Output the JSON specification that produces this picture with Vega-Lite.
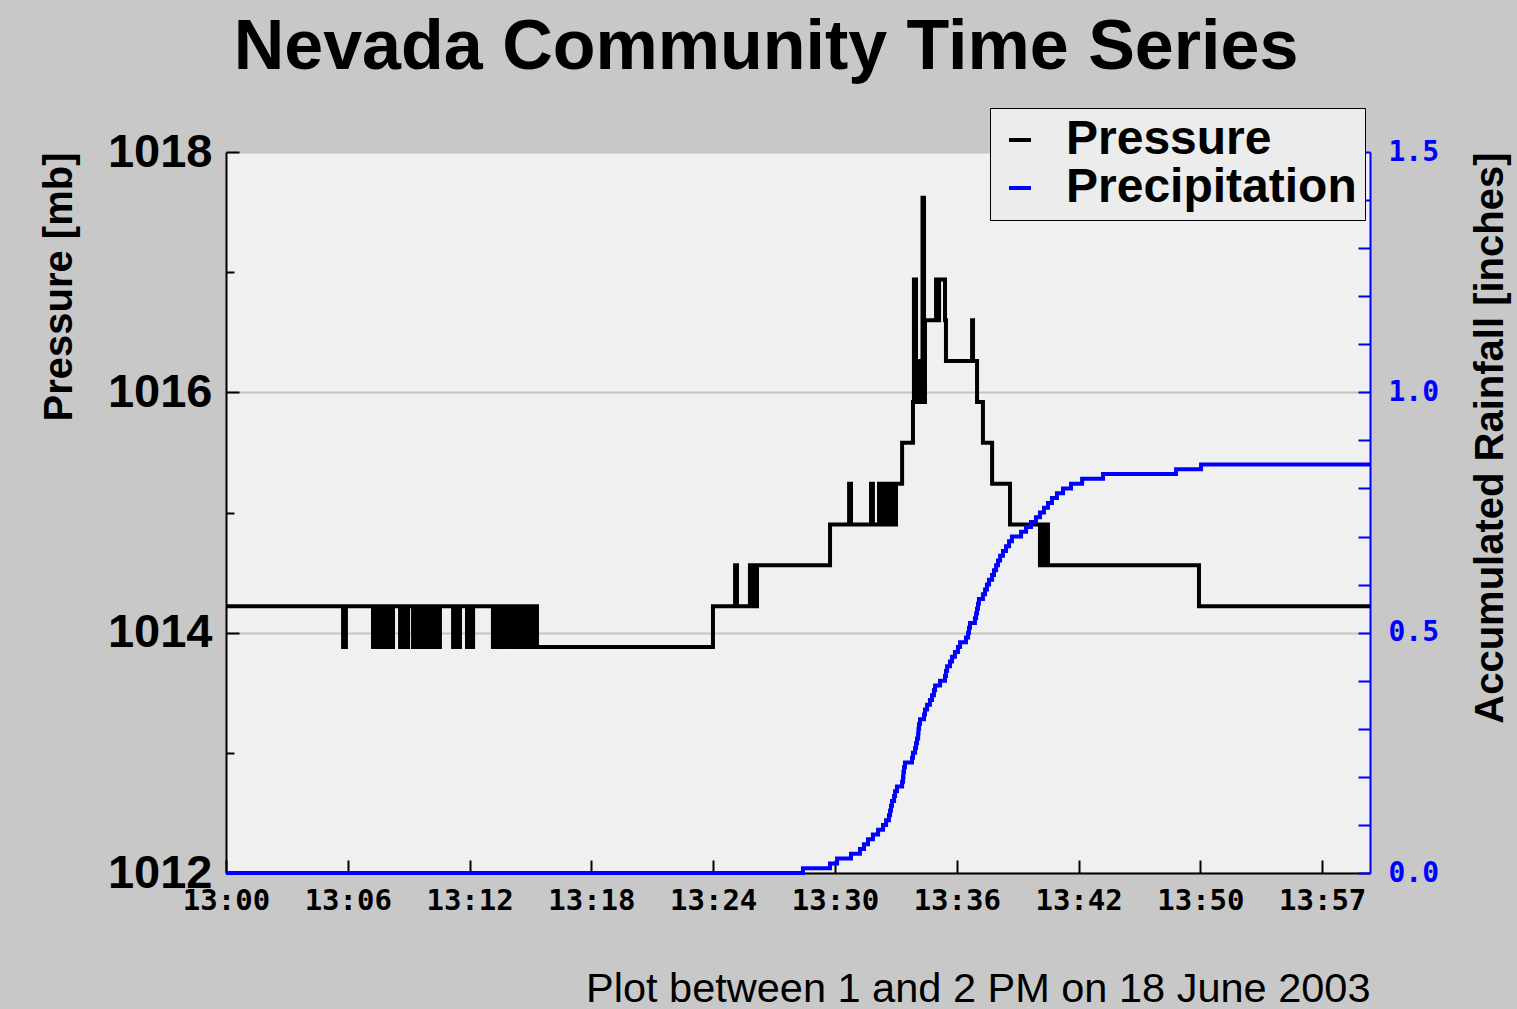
{
  "$schema": "https://vega.github.io/schema/vega-lite/v6.json",
  "autosize": "none",
  "width": 1144,
  "height": 721,
  "padding": {"left": 226, "top": 152, "right": 147, "bottom": 136},
  "background": "#c8c8c8",
  "title": {
    "text": "Nevada Community Time Series",
    "font": "Liberation Sans",
    "fontSize": 70,
    "fontWeight": "bold",
    "color": "black",
    "anchor": "middle",
    "frame": "group",
    "dx": -32,
    "baseline": "alphabetic",
    "offset": -31
  },
  "datasets": {
    "pressure": [
      {"t": 0, "p": 1014.22}, {"t": 6.14, "p": 1013.88}, {"t": 6.29, "p": 1014.22},
      {"t": 7.71, "p": 1013.88}, {"t": 7.82, "p": 1014.22}, {"t": 7.92, "p": 1013.88}, {"t": 8.03, "p": 1014.22}, {"t": 8.10, "p": 1013.88}, {"t": 8.18, "p": 1014.22},
      {"t": 8.34, "p": 1013.88}, {"t": 8.45, "p": 1014.22}, {"t": 8.55, "p": 1013.88}, {"t": 8.66, "p": 1014.22}, {"t": 8.72, "p": 1013.88}, {"t": 8.76, "p": 1014.22},
      {"t": 9.13, "p": 1013.88}, {"t": 9.24, "p": 1014.22}, {"t": 9.34, "p": 1013.88}, {"t": 9.45, "p": 1014.22}, {"t": 9.50, "p": 1013.88}, {"t": 9.55, "p": 1014.22},
      {"t": 9.81, "p": 1013.88}, {"t": 9.92, "p": 1014.22}, {"t": 10.02, "p": 1013.88}, {"t": 10.12, "p": 1014.22}, {"t": 10.15, "p": 1013.88}, {"t": 10.18, "p": 1014.22},
      {"t": 10.28, "p": 1013.88}, {"t": 10.39, "p": 1014.22}, {"t": 10.49, "p": 1013.88}, {"t": 10.60, "p": 1014.22}, {"t": 10.70, "p": 1013.88}, {"t": 10.81, "p": 1014.22}, {"t": 10.84, "p": 1013.88}, {"t": 10.86, "p": 1014.22},
      {"t": 11.07, "p": 1013.88}, {"t": 11.15, "p": 1014.22}, {"t": 11.18, "p": 1013.88}, {"t": 11.22, "p": 1014.22},
      {"t": 11.91, "p": 1013.88}, {"t": 12.01, "p": 1014.22}, {"t": 12.12, "p": 1013.88}, {"t": 12.22, "p": 1014.22}, {"t": 12.25, "p": 1013.88}, {"t": 12.27, "p": 1014.22},
      {"t": 12.64, "p": 1013.88}, {"t": 12.75, "p": 1014.22}, {"t": 12.85, "p": 1013.88}, {"t": 12.96, "p": 1014.22},
      {"t": 14.00, "p": 1013.88}, {"t": 14.11, "p": 1014.22}, {"t": 14.21, "p": 1013.88}, {"t": 14.32, "p": 1014.22}, {"t": 14.42, "p": 1013.88}, {"t": 14.53, "p": 1014.22},
      {"t": 14.74, "p": 1013.88}, {"t": 14.84, "p": 1014.22}, {"t": 14.95, "p": 1013.88}, {"t": 15.05, "p": 1014.22}, {"t": 15.16, "p": 1013.88}, {"t": 15.26, "p": 1014.22}, {"t": 15.37, "p": 1013.88}, {"t": 15.42, "p": 1014.22},
      {"t": 15.53, "p": 1013.88}, {"t": 15.63, "p": 1014.22}, {"t": 15.74, "p": 1013.88}, {"t": 15.84, "p": 1014.22}, {"t": 15.95, "p": 1013.88}, {"t": 16.05, "p": 1014.22}, {"t": 16.16, "p": 1013.88}, {"t": 16.26, "p": 1014.22}, {"t": 16.31, "p": 1013.88},
      {"t": 25.54, "p": 1014.22},
      {"t": 26.70, "p": 1014.56}, {"t": 26.80, "p": 1014.22},
      {"t": 27.48, "p": 1014.56}, {"t": 27.54, "p": 1014.22}, {"t": 27.61, "p": 1014.56}, {"t": 27.67, "p": 1014.22}, {"t": 27.74, "p": 1014.56}, {"t": 27.80, "p": 1014.22}, {"t": 27.85, "p": 1014.56},
      {"t": 31.68, "p": 1014.90},
      {"t": 32.68, "p": 1015.24}, {"t": 32.78, "p": 1014.90},
      {"t": 33.83, "p": 1015.24}, {"t": 33.93, "p": 1014.90},
      {"t": 34.25, "p": 1015.24}, {"t": 34.35, "p": 1014.90}, {"t": 34.46, "p": 1015.24}, {"t": 34.51, "p": 1014.90},
      {"t": 34.67, "p": 1015.24}, {"t": 34.72, "p": 1014.90}, {"t": 34.83, "p": 1015.24}, {"t": 34.88, "p": 1014.90}, {"t": 34.98, "p": 1015.24}, {"t": 35.03, "p": 1014.90}, {"t": 35.14, "p": 1015.24},
      {"t": 35.46, "p": 1015.58},
      {"t": 36.03, "p": 1015.92},
      {"t": 36.08, "p": 1016.94}, {"t": 36.19, "p": 1015.92}, {"t": 36.30, "p": 1016.26}, {"t": 36.40, "p": 1015.92}, {"t": 36.53, "p": 1017.62}, {"t": 36.61, "p": 1015.92}, {"t": 36.66, "p": 1016.60},
      {"t": 37.24, "p": 1016.94}, {"t": 37.35, "p": 1016.60}, {"t": 37.40, "p": 1016.94}, {"t": 37.71, "p": 1016.60}, {"t": 37.76, "p": 1016.26},
      {"t": 39.13, "p": 1016.60}, {"t": 39.18, "p": 1016.26}, {"t": 39.39, "p": 1015.92}, {"t": 39.70, "p": 1015.58}, {"t": 40.18, "p": 1015.24}, {"t": 41.12, "p": 1014.90},
      {"t": 42.69, "p": 1014.56}, {"t": 42.77, "p": 1014.90}, {"t": 42.85, "p": 1014.56}, {"t": 42.93, "p": 1014.90}, {"t": 43.01, "p": 1014.56}, {"t": 43.06, "p": 1014.90}, {"t": 43.11, "p": 1014.56},
      {"t": 51.03, "p": 1014.22}, {"t": 60, "p": 1014.22}
    ],
    "precip": [
      {"t": 0, "r": 0}, {"t": 30.26, "r": 0.01}, {"t": 31.68, "r": 0.02}, {"t": 32.05, "r": 0.03}, {"t": 32.78, "r": 0.04},
      {"t": 33.25, "r": 0.05}, {"t": 33.46, "r": 0.06}, {"t": 33.67, "r": 0.07}, {"t": 33.93, "r": 0.08}, {"t": 34.20, "r": 0.09},
      {"t": 34.46, "r": 0.10}, {"t": 34.62, "r": 0.11}, {"t": 34.77, "r": 0.12}, {"t": 34.83, "r": 0.13}, {"t": 34.88, "r": 0.14},
      {"t": 34.93, "r": 0.15}, {"t": 35.04, "r": 0.16}, {"t": 35.09, "r": 0.17}, {"t": 35.19, "r": 0.18}, {"t": 35.46, "r": 0.19},
      {"t": 35.51, "r": 0.20}, {"t": 35.53, "r": 0.21}, {"t": 35.56, "r": 0.22}, {"t": 35.61, "r": 0.23}, {"t": 35.98, "r": 0.24},
      {"t": 36.03, "r": 0.25}, {"t": 36.14, "r": 0.26}, {"t": 36.19, "r": 0.27}, {"t": 36.24, "r": 0.28}, {"t": 36.30, "r": 0.29},
      {"t": 36.32, "r": 0.30}, {"t": 36.35, "r": 0.31}, {"t": 36.40, "r": 0.32}, {"t": 36.61, "r": 0.33}, {"t": 36.66, "r": 0.34},
      {"t": 36.77, "r": 0.35}, {"t": 36.92, "r": 0.36}, {"t": 37.03, "r": 0.37}, {"t": 37.13, "r": 0.38}, {"t": 37.19, "r": 0.39},
      {"t": 37.45, "r": 0.40}, {"t": 37.71, "r": 0.41}, {"t": 37.76, "r": 0.42}, {"t": 37.82, "r": 0.43}, {"t": 37.97, "r": 0.44},
      {"t": 38.08, "r": 0.45}, {"t": 38.23, "r": 0.46}, {"t": 38.39, "r": 0.47}, {"t": 38.50, "r": 0.48}, {"t": 38.81, "r": 0.49},
      {"t": 38.92, "r": 0.50}, {"t": 38.97, "r": 0.51}, {"t": 39.02, "r": 0.52}, {"t": 39.28, "r": 0.53}, {"t": 39.34, "r": 0.54},
      {"t": 39.39, "r": 0.55}, {"t": 39.44, "r": 0.56}, {"t": 39.49, "r": 0.57}, {"t": 39.70, "r": 0.58}, {"t": 39.81, "r": 0.59},
      {"t": 39.91, "r": 0.60}, {"t": 40.02, "r": 0.61}, {"t": 40.18, "r": 0.62}, {"t": 40.28, "r": 0.63}, {"t": 40.39, "r": 0.64},
      {"t": 40.49, "r": 0.65}, {"t": 40.60, "r": 0.66}, {"t": 40.75, "r": 0.67}, {"t": 40.91, "r": 0.68}, {"t": 41.07, "r": 0.69},
      {"t": 41.22, "r": 0.70}, {"t": 41.70, "r": 0.71}, {"t": 41.96, "r": 0.72}, {"t": 42.22, "r": 0.73}, {"t": 42.48, "r": 0.74},
      {"t": 42.69, "r": 0.75}, {"t": 42.90, "r": 0.76}, {"t": 43.11, "r": 0.77}, {"t": 43.32, "r": 0.78}, {"t": 43.58, "r": 0.79},
      {"t": 43.90, "r": 0.80}, {"t": 44.32, "r": 0.81}, {"t": 44.90, "r": 0.82}, {"t": 46.00, "r": 0.83}, {"t": 49.83, "r": 0.84},
      {"t": 51.14, "r": 0.85}, {"t": 60, "r": 0.85}
    ]
  },
  "encoding": {
    "x": {
      "field": "t",
      "type": "quantitative",
      "scale": {"domain": [0, 60], "nice": false, "zero": false},
      "axis": {
        "values": [0, 6.388, 12.776, 19.164, 25.552, 31.94, 38.328, 44.716, 51.104, 57.492],
        "labelExpr": "['13:00','13:06','13:12','13:18','13:24','13:30','13:36','13:42','13:50','13:57'][round(datum.value/6.388)]",
        "labelFont": "DejaVu Sans Mono",
        "labelFontWeight": "bold",
        "labelFontSize": 29,
        "labelColor": "black",
        "labelFlush": false,
        "labelOverlap": false,
        "labelPadding": 26,
        "tickSize": -13,
        "tickWidth": 2,
        "tickColor": "black",
        "domainColor": "black",
        "domainWidth": 2,
        "grid": false,
        "title": "Plot between 1 and 2 PM on 18 June 2003",
        "titleAnchor": "end",
        "titleFont": "Liberation Sans",
        "titleFontSize": 41.5,
        "titleFontWeight": "normal",
        "titleColor": "black",
        "titlePadding": 53
      }
    }
  },
  "layer": [
    {
      "data": {"name": "pressure"},
      "mark": {"type": "line", "interpolate": "step-after", "strokeWidth": 4, "clip": true},
      "encoding": {
        "y": {
          "field": "p",
          "type": "quantitative",
          "scale": {"domain": [1012, 1018], "nice": false, "zero": false},
          "axis": {
            "orient": "left",
            "values": [1012, 1013, 1014, 1015, 1016, 1017, 1018],
            "format": "d",
            "labelExpr": "datum.value % 2 == 0 ? datum.label : ''",
            "labelFont": "Liberation Sans",
            "labelFontWeight": "bold",
            "labelFontSize": 47,
            "labelColor": "black",
            "labelFlush": false,
            "labelOverlap": false,
            "labelPadding": 27,
            "tickSize": {"condition": {"test": "datum.value % 2 != 0", "value": -8}, "value": -13},
            "tickWidth": 2,
            "tickColor": "black",
            "domainColor": "black",
            "domainWidth": 2,
            "grid": true,
            "gridColor": {"condition": {"test": "datum.value % 2 != 0", "value": "transparent"}, "value": "#c4c4c4"},
            "gridWidth": 2,
            "title": "Pressure [mb]",
            "titleAnchor": "end",
            "titleFont": "Liberation Sans",
            "titleFontSize": 40,
            "titleFontWeight": "bold",
            "titleColor": "black",
            "titlePadding": 28
          }
        },
        "color": {
          "datum": "Pressure",
          "type": "nominal",
          "scale": {"domain": ["Pressure", "Precipitation"], "range": ["black", "#0000ff"]},
          "legend": {
            "title": null,
            "orient": "none",
            "legendX": 764,
            "legendY": -44,
            "symbolType": "stroke",
            "symbolSize": 484,
            "symbolStrokeWidth": 4,
            "symbolOffset": -2,
            "labelOffset": 22,
            "labelFont": "Liberation Sans",
            "labelFontWeight": "bold",
            "labelFontSize": 48,
            "labelColor": "black",
            "labelLimit": 0,
            "rowPadding": -4,
            "padding": 8,
            "fillColor": "#ececec",
            "strokeColor": "black"
          }
        }
      }
    },
    {
      "data": {"name": "precip"},
      "mark": {"type": "line", "interpolate": "step-after", "strokeWidth": 4, "clip": false},
      "encoding": {
        "y": {
          "field": "r",
          "type": "quantitative",
          "scale": {"domain": [0, 1.5], "nice": false},
          "axis": {
            "orient": "right",
            "values": [0, 0.1, 0.2, 0.3, 0.4, 0.5, 0.6, 0.7, 0.8, 0.9, 1.0, 1.1, 1.2, 1.3, 1.4, 1.5],
            "labelExpr": "datum.value % 0.5 < 0.001 ? format(datum.value, '.1f') : ''",
            "labelFont": "DejaVu Sans Mono",
            "labelFontWeight": "bold",
            "labelFontSize": 28,
            "labelColor": "#0000ff",
            "labelFlush": false,
            "labelOverlap": false,
            "labelPadding": 30,
            "tickSize": -12,
            "tickWidth": 2,
            "tickColor": "#0000ff",
            "domainColor": "#0000ff",
            "domainWidth": 2,
            "grid": false,
            "title": "Accumulated Rainfall [inches]",
            "titleAngle": 270,
            "titleBaseline": "top",
            "titleAnchor": "end",
            "titleFont": "Liberation Sans",
            "titleFontSize": 40,
            "titleFontWeight": "bold",
            "titleColor": "black",
            "titlePadding": 32
          }
        },
        "color": {"datum": "Precipitation", "type": "nominal"}
      }
    }
  ],
  "resolve": {"scale": {"y": "independent"}},
  "config": {
    "view": {"fill": "#f0f0f0", "stroke": null}
  }
}
